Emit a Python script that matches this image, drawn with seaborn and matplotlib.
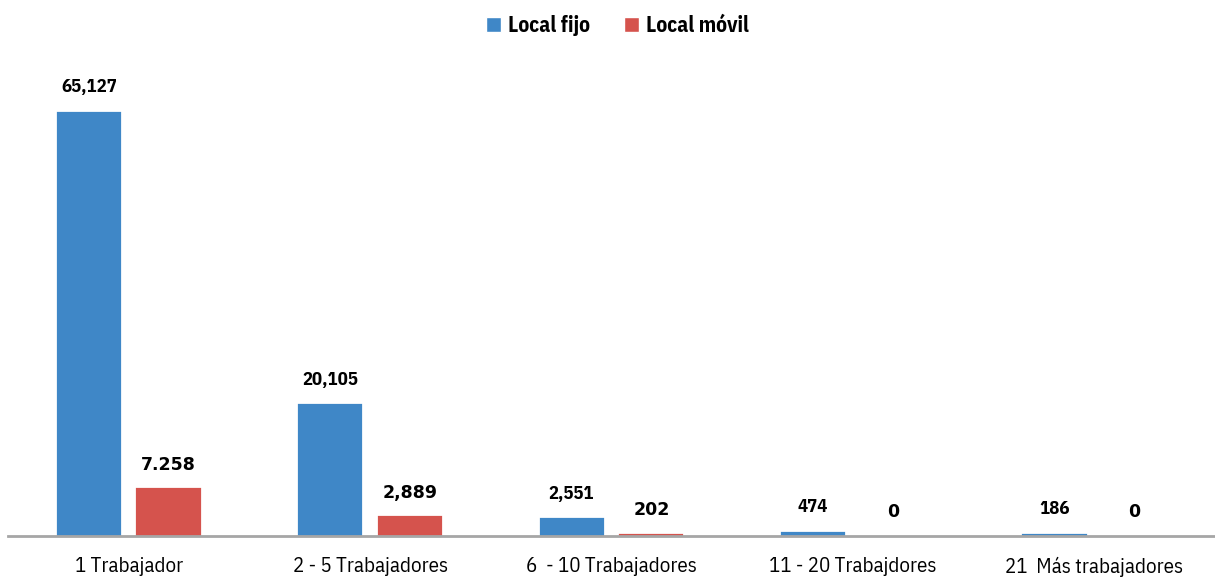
import numpy as np
import pandas as pd
import matplotlib
matplotlib.use("Agg")
import matplotlib.pyplot as plt
import seaborn as sns

# Datos
categorias = ["1 Trabajador", "2 - 5 Trabajadores", "6  - 10 Trabajadores",
              "11 - 20 Trabajdores", "21  Más trabajadores"]
local_fijo = [65127, 20105, 2551, 474, 186]
local_movil = [7258, 2889, 202, 0, 0]
etiquetas_fijo = ["65,127", "20,105", "2,551", "474", "186"]
etiquetas_movil = ["7.258", "2,889", "202", "0", "0"]
series = ["Local fijo", "Local móvil"]
colores = ["#3F87C7", "#D5534D"]

df = pd.DataFrame({
    "categoria": categorias * 2,
    "serie": [series[0]] * len(categorias) + [series[1]] * len(categorias),
    "valor": local_fijo + local_movil,
})

sns.set_style("white")
narrow = ["IBM Plex Sans Condensed", "DejaVu Sans"]
plt.rcParams["font.family"] = narrow
plt.rcParams["text.color"] = "black"
plt.rcParams["xtick.color"] = "black"

fig = plt.figure(figsize=(12.15, 5.82), dpi=100)
ax = fig.add_axes([0.0066, 0.079, 0.9934, 0.837])

sns.barplot(data=df, x="categoria", y="valor", hue="serie",
            order=categorias, hue_order=series, palette=colores,
            width=0.66, gap=0.22, saturation=1, ax=ax)

# barras pequeñas visibles como en el original
for cont in ax.containers:
    for p in cont:
        if p.get_height() > 0:
            p.set_edgecolor(p.get_facecolor())
            p.set_linewidth(1.6)

ax.set_xlim(-0.5, 4.5)
ax.set_ylim(0, 75000)
ax.set_xlabel("")
ax.set_ylabel("")
ax.set_yticks([])
for s in ["top", "right", "left"]:
    ax.spines[s].set_visible(False)
ax.spines["bottom"].set_color("#A6A6A6")
ax.spines["bottom"].set_linewidth(2)
ax.spines["bottom"].set_zorder(5)
ax.tick_params(axis="x", length=0, pad=15, labelsize=15, labelcolor="black")

# Etiquetas de datos
ax.bar_label(ax.containers[0], labels=etiquetas_fijo, padding=12,
             fontsize=13.5, fontweight="bold", family=narrow, color="black")
ax.bar_label(ax.containers[1], labels=etiquetas_movil, padding=11,
             fontsize=12.5, fontweight="bold", family=["DejaVu Sans"],
             color="black")

sns.move_legend(ax, "upper center", bbox_to_anchor=(0.508, 1.008),
                bbox_transform=fig.transFigure, ncol=2, frameon=False,
                title=None, handlelength=0.7, handleheight=0.7,
                handletextpad=0.3, columnspacing=1.6,
                prop={"family": narrow, "weight": "bold", "size": 15.5})

fig.savefig("out.png", dpi=100)
